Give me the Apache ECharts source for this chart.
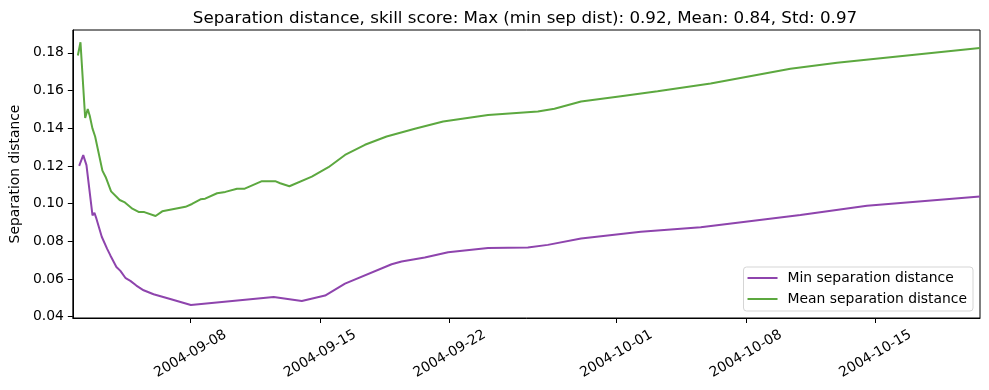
<!DOCTYPE html>
<html>
<head>
<meta charset="utf-8">
<script src="https://cdn.jsdelivr.net/npm/echarts@6/dist/echarts.min.js"></script>
<style>
html,body{margin:0;padding:0;background:#fff;}
#chart{width:989px;height:390px;}
</style>
</head>
<body>
<div id="chart"></div>
<script>
// ---- data ----
var chartTitle = 'Separation distance, skill score: Max (min sep dist): 0.92, Mean: 0.84, Std: 0.97';
var yAxisTitle = 'Separation distance';
var seriesNames = ['Min separation distance', 'Mean separation distance'];

var minTimes = [
  '2004-09-01 23:45', '2004-09-02 05:00', '2004-09-02 09:10', '2004-09-02 17:00',
  '2004-09-02 19:30', '2004-09-02 22:05', '2004-09-03 05:00', '2004-09-03 12:00',
  '2004-09-03 16:10', '2004-09-04 00:00', '2004-09-04 05:10', '2004-09-04 12:00',
  '2004-09-04 18:05', '2004-09-05 01:50', '2004-09-05 11:15', '2004-09-06 00:10',
  '2004-09-06 21:45', '2004-09-08 00:30', '2004-09-12 11:50', '2004-09-14 00:20',
  '2004-09-15 06:30', '2004-09-16 08:20', '2004-09-18 20:45', '2004-09-19 09:40',
  '2004-09-20 15:45', '2004-09-21 22:00', '2004-09-24 01:45', '2004-09-26 05:25',
  '2004-09-27 07:15', '2004-09-29 02:20', '2004-10-02 07:50', '2004-10-05 13:25',
  '2004-10-10 22:40', '2004-10-14 12:55', '2004-10-20 15:20'
];
var minValues = [
  0.1200, 0.1257, 0.1204, 0.0938,
  0.0951, 0.0920, 0.0824, 0.0760,
  0.0725, 0.0664, 0.0643, 0.0604,
  0.0590, 0.0565, 0.0540, 0.0519,
  0.0494, 0.0462, 0.0504, 0.0483,
  0.0512, 0.0575, 0.0678, 0.0693,
  0.0714, 0.0742, 0.0764, 0.0767,
  0.0781, 0.0815, 0.0850, 0.0874,
  0.0939, 0.0989, 0.1037
];

var meanTimes = [
  '2004-09-01 22:00', '2004-09-02 01:25', '2004-09-02 07:30', '2004-09-02 10:50',
  '2004-09-02 13:25', '2004-09-02 16:55', '2004-09-02 20:25', '2004-09-03 05:50',
  '2004-09-03 10:10', '2004-09-03 17:05', '2004-09-04 04:15', '2004-09-04 10:15',
  '2004-09-04 20:40', '2004-09-05 05:20', '2004-09-05 12:10', '2004-09-06 02:45',
  '2004-09-06 11:25', '2004-09-07 17:30', '2004-09-08 02:00', '2004-09-08 13:00',
  '2004-09-08 19:00', '2004-09-09 10:30', '2004-09-09 21:15', '2004-09-10 12:20',
  '2004-09-10 22:20', '2004-09-11 20:40', '2004-09-12 13:50', '2004-09-12 20:20',
  '2004-09-13 08:15', '2004-09-14 13:20', '2004-09-15 10:55', '2004-09-16 08:20',
  '2004-09-17 10:10', '2004-09-18 14:15', '2004-09-20 02:50', '2004-09-21 15:35',
  '2004-09-24 01:45', '2004-09-26 18:20', '2004-09-27 15:50', '2004-09-29 02:20',
  '2004-10-01 06:00', '2004-10-03 05:30', '2004-10-06 02:20', '2004-10-10 09:45',
  '2004-10-12 22:10', '2004-10-20 15:20'
];
var meanValues = [
  0.1786, 0.1856, 0.1454, 0.1502,
  0.1466, 0.1399, 0.1356, 0.1175,
  0.1140, 0.1065, 0.1019, 0.1008,
  0.0973, 0.0955, 0.0955, 0.0934,
  0.0959, 0.0983, 0.0998, 0.1023,
  0.1026, 0.1055, 0.1062, 0.1079,
  0.1079, 0.1119, 0.1119, 0.1108,
  0.1092, 0.1143, 0.1193, 0.1258,
  0.1312, 0.1356, 0.1397, 0.1436,
  0.1470, 0.1489, 0.1503, 0.1542,
  0.1570, 0.1596, 0.1637, 0.1715,
  0.1747, 0.1825
];

var xTickLabels = ['2004-09-08', '2004-09-15', '2004-09-22', '2004-10-01', '2004-10-08', '2004-10-15'];
var yTickValues = [0.04, 0.06, 0.08, 0.10, 0.12, 0.14, 0.16, 0.18];
var xRange = ['2004-09-01 15:30', '2004-10-20 15:30'];
var yRange = [0.0393, 0.1921];

// ---- helpers ----
function toUTC(s) {
  var p = s.split(/[- :]/).map(Number);
  return Date.UTC(p[0], p[1] - 1, p[2], p[3] || 0, p[4] || 0);
}
function pad(n) { return (n < 10 ? '0' : '') + n; }
function fmtDate(ts) {
  var d = new Date(ts);
  return d.getUTCFullYear() + '-' + pad(d.getUTCMonth() + 1) + '-' + pad(d.getUTCDate());
}
function pairs(times, values) {
  return times.map(function (t, i) { return [toUTC(t), values[i]]; });
}

var xTickValues = xTickLabels.map(toUTC);
var font = 'DejaVu Sans';
var fs = 13.9;
var lineIcon = 'path://M0,0 L30,0 L30,2 L0,2 Z';

var chart = echarts.init(document.getElementById('chart'), null, { renderer: 'canvas' });
chart.setOption({
  animation: false,
  backgroundColor: '#ffffff',
  title: {
    text: chartTitle,
    left: 520,
    textAlign: 'center',
    top: 5,
    textStyle: { fontFamily: font, fontSize: 16.7, fontWeight: 'normal', color: '#000' }
  },
  grid: {
    left: 70, right: 9, top: 30, bottom: 72,
    show: true, borderColor: '#000', borderWidth: 1, backgroundColor: 'transparent'
  },
  legend: {
    orient: 'vertical',
    right: 16,
    bottom: 79,
    itemWidth: 30,
    itemHeight: 14,
    itemGap: 7,
    padding: [4, 6, 5, 4],
    backgroundColor: '#fff',
    borderColor: '#d5d5d5',
    borderWidth: 1,
    borderRadius: 3,
    textStyle: { fontFamily: font, fontSize: fs, color: '#000', padding: [0, 0, 0, 5] },
    data: [
      { name: seriesNames[0], icon: lineIcon },
      { name: seriesNames[1], icon: lineIcon }
    ]
  },
  xAxis: {
    type: 'value',
    min: toUTC(xRange[0]),
    max: toUTC(xRange[1]),
    axisLine: { show: true, lineStyle: { color: '#000', width: 1 } },
    axisTick: { show: true, length: 5, lineStyle: { color: '#000' }, customValues: xTickValues },
    axisLabel: {
      customValues: xTickValues,
      formatter: function (v) { return fmtDate(v); },
      rotate: 30,
      align: 'center',
      verticalAlign: 'middle',
      margin: 36,
      fontFamily: font,
      fontSize: fs,
      color: '#000'
    },
    splitLine: { show: false }
  },
  yAxis: {
    type: 'value',
    min: yRange[0],
    max: yRange[1],
    name: yAxisTitle,
    nameLocation: 'middle',
    nameGap: 40,
    nameTextStyle: { fontFamily: font, fontSize: fs, color: '#000' },
    axisLine: { show: true, lineStyle: { color: '#000', width: 1 } },
    axisTick: { show: true, length: 5, lineStyle: { color: '#000' }, customValues: yTickValues },
    axisLabel: {
      customValues: yTickValues,
      formatter: function (v) { return v.toFixed(2); },
      margin: 9,
      fontFamily: font,
      fontSize: fs,
      color: '#000'
    },
    splitLine: { show: false }
  },
  series: [
    {
      name: seriesNames[0],
      type: 'line',
      symbol: 'none',
      color: '#8e44ad',
      lineStyle: { width: 2, color: '#8e44ad' },
      data: pairs(minTimes, minValues)
    },
    {
      name: seriesNames[1],
      type: 'line',
      symbol: 'none',
      color: '#5ca83f',
      lineStyle: { width: 2, color: '#5ca83f' },
      data: pairs(meanTimes, meanValues)
    }
  ]
});
</script>
</body>
</html>
